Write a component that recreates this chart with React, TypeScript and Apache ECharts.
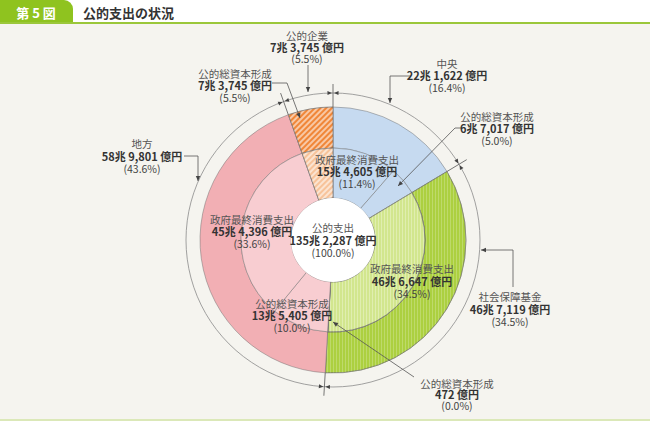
import React, { useEffect, useRef } from 'react';
import * as echarts from 'echarts';

const figureNo = '第5図';
const titleText = '公的支出の状況';
const totalName = '公的支出';
const categoryNames = ['中央', '社会保障基金', '地方', '公的企業'];
const categoryValues = [221622, 467119, 589801, 73745]; // 億円
const subNames = ['政府最終消費支出', '公的総資本形成', '政府最終消費支出', '公的総資本形成', '公的総資本形成', '政府最終消費支出', '公的総資本形成'];
const subValues = [154605, 67017, 466647, 472, 135405, 454396, 73745]; // 億円
const subParents = [0, 0, 1, 1, 2, 2, 3];

const FONT = "'Noto Sans CJK JP', 'Noto Sans', sans-serif";
const CX = 333;
const CY = 240;
const R_HOLE = 42;
const R_MID = 92;
const R_OUT = 133;
const R_RING = 147;

const outerColors = ['#c6daf0', '#acd040', '#f2afb4', '#f08638'];
const innerColors = ['#c6daf0', '#d2e68e', '#f8cdd1', '#f7c39a'];

const total = categoryValues.reduce((a, b) => a + b, 0);

function fmtOku(v: number) {
  const cho = Math.floor(v / 10000);
  const oku = v % 10000;
  const okuStr = oku.toLocaleString('en-US');
  return cho > 0 ? `${cho}兆 ${okuStr} 億円` : `${okuStr} 億円`;
}
function fmtPct(v: number) {
  return `(${((v / total) * 100).toFixed(1)}%)`;
}

function arrowHead(tx: number, ty: number, dx: number, dy: number, len = 5, w = 2.2) {
  const l = Math.hypot(dx, dy) || 1;
  const ux = dx / l, uy = dy / l;
  const bx = tx - ux * len, by = ty - uy * len;
  return {
    type: 'polygon',
    z: 110,
    silent: true,
    shape: { points: [[tx, ty], [bx - uy * w, by + ux * w], [bx + uy * w, by - ux * w]] },
    style: { fill: '#444' },
  };
}

function leader(points: number[][]) {
  const n = points.length;
  const [x1, y1] = points[n - 2];
  const [x2, y2] = points[n - 1];
  return [
    { type: 'polyline', z: 110, silent: true, shape: { points }, style: { stroke: '#555', lineWidth: 0.8, fill: 'none' } },
    arrowHead(x2, y2, x2 - x1, y2 - y1),
  ];
}

function labelBlock(x: number, y: number, name: string, value: number, gap = 12.3) {
  return {
    type: 'text',
    z: 120,
    silent: true,
    x,
    y: y + gap,
    style: {
      text: `{n|${name}}\n{v|${fmtOku(value)}}\n{p|${fmtPct(value)}}`,
      align: 'center',
      verticalAlign: 'middle',
      rich: {
        n: { fontSize: 10.5, fontFamily: FONT, fill: '#555', lineHeight: gap, align: 'center' },
        v: { fontSize: 11, fontFamily: FONT, fontWeight: 'bold', fill: '#333', lineHeight: gap, align: 'center' },
        p: { fontSize: 10.5, fontFamily: FONT, fill: '#444', lineHeight: gap, align: 'center' },
      },
    },
  };
}

function polar(angleDeg: number, r: number) {
  const a = (angleDeg * Math.PI) / 180;
  return [CX + Math.sin(a) * r, CY - Math.cos(a) * r];
}

export default function App() {
  const ref = useRef<HTMLDivElement>(null);
  useEffect(() => {
    if (!ref.current) return;
    const chart = echarts.init(ref.current, undefined, { renderer: 'svg' });

    const greenDecal = { symbol: 'rect', symbolSize: 1, color: 'rgba(255,255,255,0.22)', dashArrayX: [1, 2], dashArrayY: [1, 0] };
    const greenDecalInner = { symbol: 'rect', symbolSize: 1, color: 'rgba(255,255,255,0.3)', dashArrayX: [1, 2], dashArrayY: [1, 0] };
    const hatch = { symbol: 'rect', symbolSize: 1, color: 'rgba(255,255,255,0.55)', dashArrayX: [1, 0], dashArrayY: [1.5, 2], rotation: -Math.PI / 4 };

    const outerData = categoryNames.map((n, i) => ({
      name: n,
      value: categoryValues[i],
      itemStyle: {
        color: outerColors[i],
        decal: i === 1 ? greenDecal : i === 3 ? hatch : undefined,
      },
    }));
    const innerData = subNames.map((n, i) => {
      const p = subParents[i];
      return {
        name: `${categoryNames[p]}-${n}`,
        value: subValues[i],
        itemStyle: {
          color: innerColors[p],
          decal: p === 1 ? greenDecalInner : p === 3 ? hatch : undefined,
        },
      };
    });

    // dimension markers at category boundaries
    const dims: any[] = [];
    let cum = 0;
    categoryValues.forEach((v) => {
      const ang = (cum / total) * 360;
      const [x1, y1] = polar(ang, R_OUT);
      const [x2, y2] = polar(ang, R_RING + 9);
      dims.push({ type: 'line', z: 110, silent: true, shape: { x1, y1, x2, y2 }, style: { stroke: '#555', lineWidth: 0.8 } });
      const dAng = 2.6;
      const [ax, ay] = polar(ang - dAng, R_RING);
      const [bx, by] = polar(ang + dAng, R_RING);
      const [tx1, ty1] = polar(ang - 0.4, R_RING);
      const [tx2, ty2] = polar(ang + 0.4, R_RING);
      dims.push(arrowHead(tx1, ty1, tx1 - ax, ty1 - ay, 4.5, 2));
      dims.push(arrowHead(tx2, ty2, tx2 - bx, ty2 - by, 4.5, 2));
      cum += v;
    });

    const graphics: any[] = [
      { type: 'rect', z: 0, silent: true, shape: { x: 0, y: 0, width: 650, height: 23 }, style: { fill: '#ffffff' } },
      { type: 'rect', z: 1, silent: true, shape: { x: 0, y: 0, width: 73, height: 23, r: [0, 9, 0, 0] }, style: { fill: '#8fc31f' } },
      { type: 'rect', z: 1, silent: true, shape: { x: 0, y: 22, width: 650, height: 2 }, style: { fill: '#9bc73a' } },
      { type: 'rect', z: 1, silent: true, shape: { x: 0, y: 419, width: 650, height: 2 }, style: { fill: '#dbe8b8' } },
      { type: 'text', z: 5, silent: true, x: 36, y: 12, style: { text: figureNo.split('').join(' '), font: `bold 13px ${FONT}`, fill: '#ffffff', align: 'center', verticalAlign: 'middle' } },
      { type: 'text', z: 5, silent: true, x: 83, y: 12, style: { text: titleText, font: `bold 13px ${FONT}`, fill: '#333', align: 'left', verticalAlign: 'middle' } },
      { type: 'circle', z: 1, silent: true, shape: { cx: CX, cy: CY, r: R_RING }, style: { fill: 'none', stroke: '#8a8a8a', lineWidth: 0.8 } },
      ...dims,
      // category labels
      labelBlock(307, 35, categoryNames[3], categoryValues[3], 11.8),
      labelBlock(447, 63, categoryNames[0], categoryValues[0], 12.3),
      labelBlock(142, 143, categoryNames[2], categoryValues[2], 12.8),
      labelBlock(510, 296, categoryNames[1], categoryValues[1], 12.8),
      // sub labels
      labelBlock(235, 73, subNames[6], subValues[6], 12),
      labelBlock(497, 116, subNames[1], subValues[1], 12),
      labelBlock(357, 159, subNames[0], subValues[0], 12),
      labelBlock(252, 219, subNames[5], subValues[5], 12),
      labelBlock(292, 303, subNames[4], subValues[4], 12),
      labelBlock(412, 268, subNames[2], subValues[2], 12.5),
      labelBlock(457, 383, subNames[3], subValues[3], 11.2),
      // leader lines
      ...leader([[308, 65], [308, 92]]),
      ...leader([[272, 83], [287, 83], [300, 118]]),
      ...leader([[411, 76], [390, 76], [390, 103]]),
      ...leader([[461, 128], [455, 128], [398, 186]]),
      ...leader([[184, 156], [198, 156], [198, 181]]),
      ...leader([[513, 287], [513, 250], [481, 250]]),
      ...leader([[414, 377], [333, 322]]),
    ];

    chart.setOption({
      animation: false,
      backgroundColor: '#f5f4ef',
      graphic: { elements: graphics },
      series: [
        {
          type: 'pie',
          silent: true,
          center: [CX, CY],
          radius: [R_MID, R_OUT],
          startAngle: 90,
          clockwise: true,
          avoidLabelOverlap: false,
          label: { show: false },
          labelLine: { show: false },
          itemStyle: { borderColor: 'rgba(110,110,110,0.8)', borderWidth: 0.6 },
          data: outerData,
        },
        {
          type: 'pie',
          silent: true,
          center: [CX, CY],
          radius: [R_HOLE, R_MID],
          startAngle: 90,
          clockwise: true,
          avoidLabelOverlap: false,
          label: { show: false },
          labelLine: { show: false },
          itemStyle: { borderColor: 'rgba(110,110,110,0.8)', borderWidth: 0.6 },
          data: innerData,
        },
        {
          type: 'pie',
          silent: true,
          center: [CX, CY],
          radius: [0, R_HOLE],
          label: {
            show: true,
            position: 'center',
            formatter: () => `{n|${totalName}}\n{v|${fmtOku(total)}}\n{p|(100.0%)}`,
            rich: {
              n: { fontSize: 10.5, fontFamily: FONT, color: '#555', lineHeight: 12.5 },
              v: { fontSize: 11, fontFamily: FONT, fontWeight: 'bold', color: '#333', lineHeight: 12.5 },
              p: { fontSize: 10.5, fontFamily: FONT, color: '#444', lineHeight: 12.5 },
            },
          },
          labelLine: { show: false },
          itemStyle: { color: '#ffffff' },
          data: [{ name: totalName, value: total }],
        },
      ],
    });
    return () => chart.dispose();
  }, []);
  return <div ref={ref} style={{ position: 'fixed', left: 0, top: 0, width: 650, height: 421 }} />;
}
